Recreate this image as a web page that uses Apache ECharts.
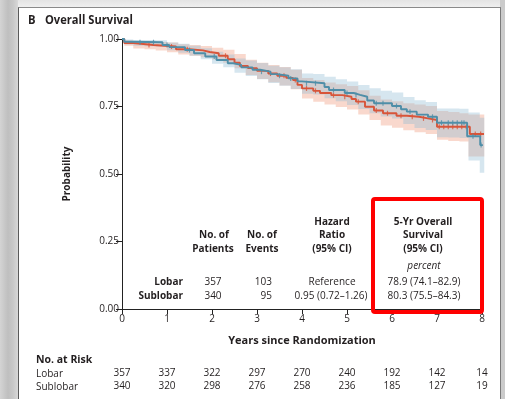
<!DOCTYPE html>
<html>
<head>
<meta charset="utf-8">
<script src="https://cdn.jsdelivr.net/npm/echarts@6/dist/echarts.min.js"></script>
<style>
  html, body { margin: 0; padding: 0; width: 505px; height: 399px; overflow: hidden; }
  body { background: linear-gradient(to right, #d4d4d4 0px, #bfbfbf 8px, #c8c8c8 13px, #d8d8d8 18px); position: relative; }
  #top { position: absolute; left: 18px; top: 0; width: 487px; height: 7px; background: linear-gradient(#e4e4e4, #efefef); }
  #right { position: absolute; left: 500px; top: 0; width: 5px; height: 399px; background: #cbcbcb; }
  #panel { position: absolute; left: 18px; top: 7px; width: 481px; height: 392px; background: #fff;
           border-left: 1px solid #5a5a5a; border-top: 1px solid #8a8a8a; border-right: 1px solid #7a7a7a; }
  #main { position: absolute; left: 0; top: 0; width: 505px; height: 399px; }
</style>
</head>
<body>
<div id="top"></div>
<div id="right"></div>
<div id="panel"></div>
<div id="main"></div>
<script>
// Kaplan-Meier estimates (years, survival probability)
var lobarT = [0, 0.05, 0.25, 0.7, 1.2, 1.5, 1.8, 1.95, 2.15, 2.35, 2.5, 2.62, 2.8, 3.0, 3.25, 3.45, 3.65, 3.8, 3.9,
              4.0, 4.25, 4.4, 4.65, 4.9, 5.1, 5.2, 5.4, 5.6, 5.8, 6.1, 6.33, 6.6, 6.8, 7.0, 7.73, 8.05];
var lobarS = [1.0, 0.985, 0.978, 0.972, 0.962, 0.958, 0.952, 0.947, 0.938, 0.925, 0.912, 0.9, 0.892, 0.882, 0.872, 0.864, 0.856, 0.848, 0.83,
              0.817, 0.808, 0.8, 0.792, 0.786, 0.778, 0.768, 0.749, 0.735, 0.725, 0.716, 0.712, 0.706, 0.7, 0.675, 0.648, 0.648];

var sublobarT = [0, 0.05, 0.2, 0.9, 1.05, 1.4, 1.6, 1.85, 2.1, 2.35, 2.47, 2.65, 2.9, 3.07, 3.3, 3.44, 3.7, 3.9,
                 4.0, 4.5, 4.6, 4.95, 5.15, 5.29, 5.45, 5.6, 6.0, 6.2, 6.33, 6.55, 6.8, 7.0, 7.67, 7.96, 8.02];
var sublobarS = [1.0, 0.99, 0.988, 0.978, 0.97, 0.959, 0.947, 0.935, 0.922, 0.91, 0.904, 0.895, 0.886, 0.879, 0.87, 0.864, 0.854, 0.843,
                 0.836, 0.822, 0.811, 0.8, 0.793, 0.786, 0.772, 0.762, 0.752, 0.74, 0.731, 0.72, 0.712, 0.69, 0.64, 0.607, 0.607];

// 95% confidence bands
var bandT      = [0, 0.05, 0.25, 0.5, 0.75, 1, 1.25, 1.5, 1.75, 2, 2.25, 2.5, 2.75, 3, 3.25, 3.5, 3.75, 4, 4.25,
                  4.5, 4.75, 5, 5.25, 5.5, 5.75, 6, 6.25, 6.5, 6.75, 7, 7.25, 7.5, 7.7, 7.95, 8.05];
var lobarLo    = [1, 0.975, 0.965, 0.962, 0.957, 0.951, 0.943, 0.938, 0.932, 0.924, 0.912, 0.892, 0.867, 0.852, 0.84, 0.828, 0.814, 0.78, 0.768,
                  0.757, 0.748, 0.739, 0.72, 0.70, 0.68, 0.671, 0.662, 0.655, 0.648, 0.627, 0.622, 0.62, 0.565, 0.565, 0.565];
var lobarHi    = [1, 0.995, 0.99, 0.99, 0.989, 0.987, 0.981, 0.978, 0.974, 0.968, 0.96, 0.944, 0.923, 0.912, 0.904, 0.896, 0.886, 0.856, 0.848,
                  0.839, 0.832, 0.826, 0.81, 0.79, 0.776, 0.769, 0.762, 0.757, 0.752, 0.733, 0.73, 0.725, 0.72, 0.72, 0.72];
var sublobarLo = [1, 0.98, 0.975, 0.973, 0.971, 0.958, 0.949, 0.938, 0.925, 0.908, 0.895, 0.875, 0.863, 0.851, 0.837, 0.827, 0.815, 0.797, 0.794,
                  0.781, 0.769, 0.756, 0.741, 0.725, 0.713, 0.706, 0.685, 0.67, 0.663, 0.636, 0.635, 0.633, 0.55, 0.505, 0.505];
var sublobarHi = [1, 0.998, 0.996, 0.996, 0.995, 0.987, 0.982, 0.975, 0.966, 0.953, 0.943, 0.928, 0.92, 0.911, 0.901, 0.895, 0.888, 0.872, 0.87,
                  0.86, 0.851, 0.843, 0.83, 0.818, 0.808, 0.802, 0.785, 0.773, 0.767, 0.743, 0.743, 0.742, 0.728, 0.708, 0.708];

// censoring marks (years)
var lobarCensor = [0.6, 1.1, 1.45, 2.3, 3.3, 3.6, 3.85, 4.1, 4.3, 4.7, 4.95, 5.25, 5.65, 5.9, 6.2, 6.45, 6.7, 6.9,
                   7.05, 7.15, 7.25, 7.35, 7.45, 7.55, 7.65, 7.85, 7.97];
var sublobarCensor = [0.4, 0.7, 1.0, 1.5, 2.05, 3.1, 3.5, 3.75, 4.1, 4.3, 4.7, 5.0, 5.2, 5.65, 5.8, 6.1, 6.4, 6.9,
                      7.1, 7.25, 7.35, 7.45, 7.55, 7.6, 7.8, 7.98];

var xTicks = [0, 1, 2, 3, 4, 5, 6, 7, 8];
var lobarRisk = [357, 337, 322, 297, 270, 240, 192, 142, 14];
var sublobarRisk = [340, 320, 298, 276, 258, 236, 185, 127, 19];

var RED = '#d8553a', BLUE = '#4f8ea8';
var FONT = '"Open Sans"';
var INK = '#231f20';

function pairs(t, v) { return t.map(function (x, i) { return [x, v[i]]; }); }
function stepAt(t, v, x) {
  var y = v[0];
  for (var i = 0; i < t.length; i++) { if (t[i] <= x) y = v[i]; }
  return y;
}
function censorPts(c, t, v) { return c.map(function (x) { return [x, stepAt(t, v, x)]; }); }

// step-shaped confidence band as one polygon, placed through the grid's coordinate system
function bandSeries(lo, hi, color) {
  return {
    type: 'custom', silent: true, z: 1,
    data: [[0, 0]],
    renderItem: function (params, api) {
      var top = [], bottom = [];
      for (var i = 0; i < bandT.length; i++) {
        var next = i < bandT.length - 1 ? bandT[i + 1] : bandT[i];
        top.push(api.coord([bandT[i], hi[i]]), api.coord([next, hi[i]]));
        bottom.push(api.coord([bandT[i], lo[i]]), api.coord([next, lo[i]]));
      }
      return { type: 'polygon', shape: { points: top.concat(bottom.reverse()) }, style: { fill: color } };
    }
  };
}

// the original title face is condensed: squeeze the text to its width
function squeeze(s, font, width) {
  var ctx = document.createElement('canvas').getContext('2d');
  ctx.font = font;
  return width / ctx.measureText(s).width;
}

var myChart = echarts.init(document.getElementById('main'), null, { renderer: 'canvas' });

function riskAxis(arr, offset) {
  return {
    type: 'value', min: 0, max: 8, interval: 1, position: 'bottom', offset: offset,
    axisLine: { show: false }, axisTick: { show: false }, splitLine: { show: false },
    axisLabel: { margin: 0, fontFamily: FONT, fontSize: 10, color: INK,
      formatter: function (v) { return arr[xTicks.indexOf(v)]; } }
  };
}

function txt(x, y, s, opt) {
  opt = opt || {};
  return {
    type: 'text', x: x, y: y, z: 10, scaleX: opt.scaleX || 1,
    style: {
      text: s, fill: INK, align: opt.align || 'center', verticalAlign: 'middle',
      font: (opt.style || '') + ' ' + (opt.weight || 'normal') + ' ' + (opt.size || 10) + 'px ' + FONT
    }
  };
}

var titleFont = 'bold 12.5px ' + FONT;
var graphics = [
  txt(28, 20, 'B', { align: 'left', weight: 'bold', size: 12.5, scaleX: 0.9 }),
  txt(45, 20, 'Overall Survival', { align: 'left', weight: 'bold', size: 12.5,
    scaleX: squeeze('Overall Survival', titleFont, 88) }),
  // summary table
  txt(214, 235, 'No. of', { weight: 'bold' }),
  txt(213, 249, 'Patients', { weight: 'bold' }),
  txt(262, 235, 'No. of', { weight: 'bold' }),
  txt(262, 249, 'Events', { weight: 'bold' }),
  txt(332, 222, 'Hazard', { weight: 'bold' }),
  txt(332, 235, 'Ratio', { weight: 'bold' }),
  txt(332, 249, '(95% CI)', { weight: 'bold' }),
  txt(423, 222, '5-Yr Overall', { weight: 'bold' }),
  txt(423, 235, 'Survival', { weight: 'bold' }),
  txt(423, 249, '(95% CI)', { weight: 'bold' }),
  txt(424, 266, 'percent', { style: 'italic' }),
  txt(183, 282, 'Lobar', { align: 'right', weight: 'bold' }),
  txt(183, 296, 'Sublobar', { align: 'right', weight: 'bold' }),
  txt(213, 282, '357'), txt(213, 296, '340'),
  txt(272, 282, '103', { align: 'right' }), txt(272, 296, '95', { align: 'right' }),
  txt(332, 282, 'Reference'), txt(331, 296, '0.95 (0.72\u20131.26)'),
  txt(424, 282, '78.9 (74.1\u201382.9)'), txt(424, 296, '80.3 (75.5\u201384.3)'),
  // highlight box
  { type: 'rect', z: 20, shape: { x: 373, y: 199, width: 109, height: 113, r: 2 },
    style: { fill: 'none', stroke: '#ff0000', lineWidth: 4 } },
  // number at risk
  txt(36, 360, 'No. at Risk', { align: 'left', weight: 'bold', size: 10.5 }),
  txt(36, 374, 'Lobar', { align: 'left' }),
  txt(36, 387, 'Sublobar', { align: 'left' })
];

var option = {
  animation: false,
  backgroundColor: 'transparent',
  grid: { left: 122, top: 39, width: 360, height: 270 },
  xAxis: [
    {
      type: 'value', min: 0, max: 8, interval: 1,
      name: 'Years since Randomization', nameLocation: 'middle', nameGap: 26,
      nameTextStyle: { fontFamily: FONT, fontSize: 11, fontWeight: 'bold', color: INK },
      axisLine: { lineStyle: { color: '#222', width: 1 } },
      axisTick: { length: 5, lineStyle: { color: '#222' } },
      axisLabel: { margin: 5, fontFamily: FONT, fontSize: 10, color: INK },
      splitLine: { show: false }
    },
    riskAxis(lobarRisk, 59),
    riskAxis(sublobarRisk, 72)
  ],
  yAxis: {
    type: 'value', min: 0, max: 1, interval: 0.25,
    name: 'Probability', nameLocation: 'middle', nameGap: 50,
    nameTextStyle: { fontFamily: FONT, fontSize: 10, fontWeight: 'bold', color: INK },
    axisLine: { lineStyle: { color: '#222', width: 1 } },
    axisTick: { length: 6, lineStyle: { color: '#222' } },
    axisLabel: { margin: 3, fontFamily: FONT, fontSize: 10, color: INK,
      formatter: function (v) { return v.toFixed(2); } },
    splitLine: { show: false }
  },
  series: [
    bandSeries(lobarLo, lobarHi, 'rgba(236,140,108,0.34)'),
    bandSeries(sublobarLo, sublobarHi, 'rgba(140,186,210,0.36)'),
    { name: 'Lobar', type: 'line', step: 'end', data: pairs(lobarT, lobarS), symbol: 'none',
      lineStyle: { color: RED, width: 1.9 }, z: 3 },
    { name: 'Sublobar', type: 'line', step: 'end', data: pairs(sublobarT, sublobarS), symbol: 'none',
      lineStyle: { color: BLUE, width: 1.9 }, z: 4 },
    { type: 'scatter', data: censorPts(lobarCensor, lobarT, lobarS), symbol: 'rect', symbolSize: [1.2, 5],
      itemStyle: { color: RED }, z: 3, silent: true },
    { type: 'scatter', data: censorPts(sublobarCensor, sublobarT, sublobarS), symbol: 'rect', symbolSize: [1.2, 5],
      itemStyle: { color: BLUE }, z: 4, silent: true }
  ],
  graphic: graphics
};

myChart.setOption(option);
</script>
</body>
</html>
